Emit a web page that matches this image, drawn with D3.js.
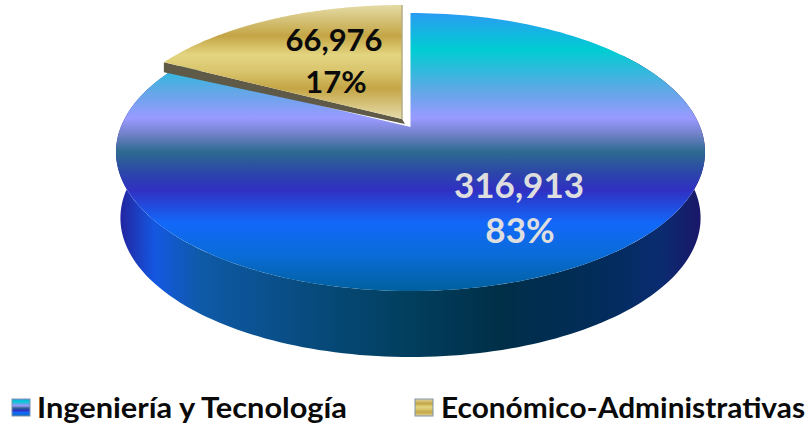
<!DOCTYPE html>
<html><head><meta charset="utf-8">
<style>html,body{margin:0;padding:0;background:#fff}svg{display:block}text{font-family:Lato,"Open Sans",sans-serif;font-weight:700}</style>
<script src="https://cdnjs.cloudflare.com/ajax/libs/d3/7.8.5/d3.min.js"></script>
</head><body><svg width="811" height="425"></svg>
<script>
const categories=["Ingeniería y Tecnología","Económico-Administrativas"];
const values=[316913,66976];
const valueLabels=["316,913","66,976"];
const percentLabels=["83%","17%"];
const blueStops=[[13,"#2a9cf2"],[50,"#00cdd2"],[90,"#5fa8e6"],[118,"#9a9aff"],[133,"#7583cc"],[152,"#2d6a90"],[172,"#2c47a8"],[190,"#3030c2"],[223,"#1268fa"],[255,"#0a6cd8"],[291,"#00609e"]];
const goldStops=[[7,"#e2d8a0"],[36,"#c4a545"],[55,"#e3d580"],[72,"#d8c46c"],[88,"#c4a545"],[119,"#e6dcaa"]];
const sideStops=[[117,"#24209a"],[155,"#1458e2"],[200,"#0f5aa8"],[300,"#084c80"],[400,"#024060"],[500,"#002f48"],[600,"#022c5a"],[660,"#0a2c70"],[706,"#1c1468"]];

const svg=d3.select("svg"),defs=svg.append("defs");
const CX=410.5,AY=127,K=0.18,A=134.5,B=289.7,DEPTH=66;
function grad(id,stops,x1,y1,x2,y2){
  const g=defs.append("linearGradient").attr("id",id).attr("gradientUnits","userSpaceOnUse")
    .attr("x1",x1).attr("y1",y1).attr("x2",x2).attr("y2",y2);
  const lo=stops[0][0],hi=stops[stops.length-1][0];
  stops.forEach(s=>g.append("stop").attr("offset",(s[0]-lo)/(hi-lo)).attr("stop-color",s[1]));
}
grad("blue",blueStops,0,13,0,291);
grad("gold",goldStops,0,7,0,119);
grad("side",sideStops,117,0,706,0);
function proj(t){const X=Math.sin(t),Z=-Math.cos(t),d=1-K*Z;return [CX+B*X/d,AY+A*Z/d];}
const base=p=>[CX+(p[0]-CX)*0.985,p[1]+DEPTH];
const line=d3.line();
const samples=(a,b,n=180)=>d3.range(n+1).map(i=>proj(a+(b-a)*i/n));

const arcs=d3.pie().sort(null)(values);
const [mainArc,goldArc]=arcs;
const off=[-8.5,-8];

const wall=samples(Math.PI*0.30,Math.PI*1.70);
svg.append("path").attr("d",line(wall.concat(wall.map(base).reverse()))+"Z").attr("fill","url(#side)");
svg.append("path").attr("d",line([[CX,AY]].concat(samples(mainArc.startAngle,mainArc.endAngle)))+"Z").attr("fill","url(#blue)");

const g0=samples(goldArc.startAngle,goldArc.endAngle).map(p=>[p[0]+off[0],p[1]+off[1]]);
const apex=[CX+off[0],AY+off[1]], tip=g0[0];
svg.append("path").attr("d",line([tip,[tip[0],tip[1]+10],[apex[0]+3,apex[1]+5],apex])+"Z").attr("fill","#5f5a48");
svg.append("path").attr("d",line([apex].concat(g0))+"Z").attr("fill","url(#gold)");
svg.append("line").attr("x1",apex[0]).attr("y1",apex[1]).attr("x2",apex[0]).attr("y2",g0[g0.length-1][1]).attr("stroke","#b5ad86").attr("stroke-width",1.5);

const labelPos=[[519,186,231,"#dedede",35],[334,40,82,"#0a0a0a",31]];
arcs.forEach((a,i)=>{
  const p=labelPos[i];
  svg.append("text").attr("x",p[0]).attr("y",p[1]).attr("dy","0.35em").attr("text-anchor","middle").attr("font-size",p[4]).attr("fill",p[3]).text(valueLabels[i]);
  svg.append("text").attr("x",p[0]+(i?2:1)).attr("y",p[2]).attr("dy","0.35em").attr("text-anchor","middle").attr("font-size",p[4]).attr("fill",p[3]).text(percentLabels[i]);
});

const legendX=[12,415],legendText=[37,441],legendWidth=[310,364];
grad("lblue",blueStops,0,399,0,417);
grad("lgold",goldStops,0,399,0,417);
categories.forEach((c,i)=>{
  svg.append("rect").attr("x",legendX[i]).attr("y",399).attr("width",18).attr("height",17).attr("fill",i?"url(#lgold)":"url(#lblue)").attr("stroke","#7f93ad").attr("stroke-width",1);
  svg.append("text").attr("x",legendText[i]).attr("y",408).attr("dy","0.35em").attr("font-size",28).attr("textLength",legendWidth[i]).attr("lengthAdjust","spacingAndGlyphs").attr("fill","#0a0a0a").text(c);
});
</script></body></html>
